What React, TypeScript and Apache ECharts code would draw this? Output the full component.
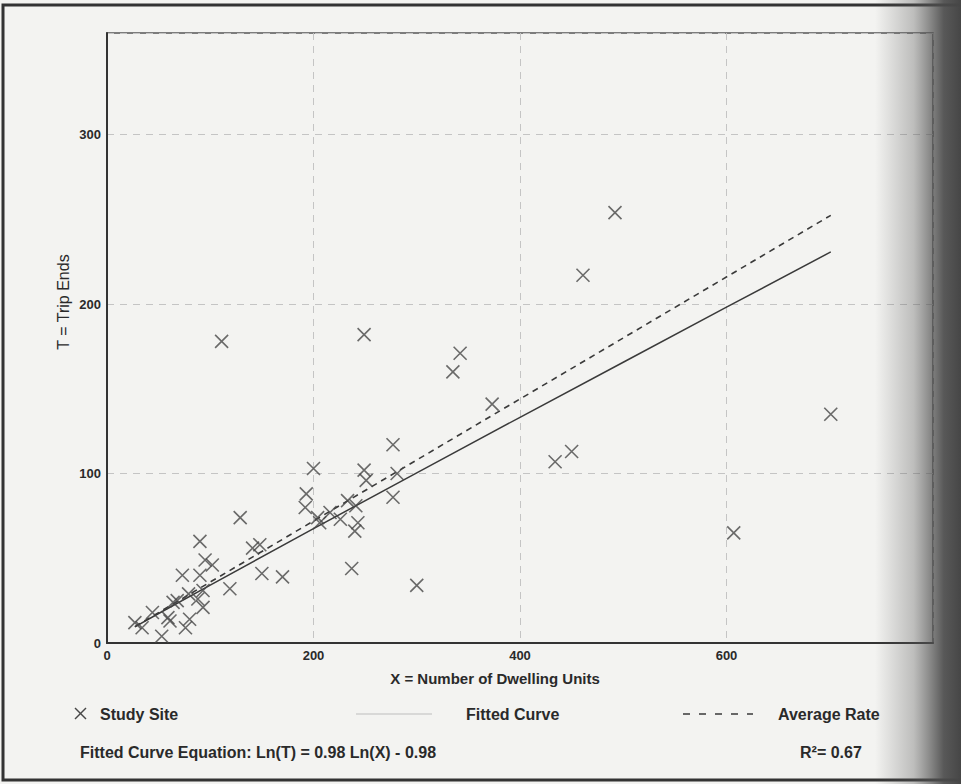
import React, { useEffect, useRef } from "react";
import * as echarts from "echarts";

// Study sites: X = number of dwelling units, T = trip ends
const siteX = [27, 34, 44, 53, 59, 61, 64, 68, 73, 76, 80, 79, 88, 90, 90, 93, 93, 95, 102, 111, 119, 129, 141, 148, 150, 170, 193, 192, 200, 204, 206, 216, 226, 233, 241, 243, 240, 237, 249, 249, 251, 277, 277, 281, 300, 335, 342, 373, 434, 450, 461, 492, 607, 701];
const siteT = [12, 9, 18, 4, 15, 13, 24, 25, 40, 9, 14, 29, 26, 40, 60, 31, 21, 49, 46, 178, 32, 74, 56, 58, 41, 39, 88, 80, 103, 74, 71, 77, 73, 84, 81, 71, 66, 44, 182, 102, 96, 117, 86, 100, 34, 160, 171, 141, 107, 113, 217, 254, 65, 135];

// Fitted curve Ln(T) = 0.98 Ln(X) - 0.98
const fitX = [27, 50, 100, 200, 300, 400, 500, 600, 701];
const fitT = [9.5, 17.4, 34.2, 67.5, 100.4, 133.2, 165.7, 198.2, 230.8];

// Average rate line
const avgX = [27, 701];
const avgT = [9.7, 252.4];

const xTicks = [0, 200, 400, 600];
const yTicks = [0, 100, 200, 300];

const FONT = "'Liberation Sans', Arial, sans-serif";
const TXT = "#2a2a2a";

export default function App() {
  const ref = useRef<HTMLDivElement>(null);
  useEffect(() => {
    if (!ref.current) return;
    const chart = echarts.init(ref.current, undefined, { renderer: "svg" });
    const pair = (xs: number[], ys: number[]) => xs.map((x, i) => [x, ys[i]]);
    chart.setOption({
      animation: false,
      backgroundColor: "transparent",
      grid: {
        left: 107,
        top: 33,
        right: 28,
        bottom: 141,
        show: true,
        borderColor: "#555",
        borderWidth: 1.5,
      },
      xAxis: {
        type: "value",
        min: 0,
        max: 800,
        interval: 200,
        axisLine: { show: true, onZero: false, lineStyle: { color: "#333", width: 2 } },
        axisTick: { show: false },
        splitLine: { show: true, lineStyle: { color: "#c4c4c4", width: 1, type: [7, 6] } },
        axisLabel: {
          color: TXT,
          fontFamily: FONT,
          fontWeight: "bold",
          fontSize: 13,
          margin: 6,
          formatter: (v: number) => (xTicks.includes(v) ? String(v) : ""),
        },
      },
      yAxis: {
        type: "value",
        min: 0,
        max: 360,
        interval: 100,
        axisLine: { show: true, onZero: false, lineStyle: { color: "#333", width: 2 } },
        axisTick: { show: false },
        splitLine: { show: true, lineStyle: { color: "#c4c4c4", width: 1, type: [7, 6] } },
        axisLabel: {
          color: TXT,
          fontFamily: FONT,
          fontWeight: "bold",
          fontSize: 13,
          margin: 6,
          formatter: (v: number) => (yTicks.includes(v) ? String(v) : ""),
        },
      },
      series: [
        {
          name: "Fitted Curve",
          type: "line",
          data: pair(fitX, fitT),
          showSymbol: false,
          smooth: false,
          lineStyle: { color: "#3a3a3a", width: 1.5 },
          z: 2,
        },
        {
          name: "Average Rate",
          type: "line",
          data: pair(avgX, avgT),
          showSymbol: false,
          lineStyle: { color: "#3a3a3a", width: 1.6, type: [6, 5] },
          z: 2,
        },
        {
          name: "Study Site",
          type: "scatter",
          data: pair(siteX, siteT),
          symbol: "path://M0,0L10,10M10,0L0,10",
          symbolSize: 13,
          itemStyle: { color: "rgba(0,0,0,0)", borderColor: "#474747", borderWidth: 1.6 },
          z: 3,
        },
      ],
      graphic: [
        {
          type: "rect",
          shape: { x: 3, y: 5, width: 1000, height: 775 },
          style: { fill: "none", stroke: "#333", lineWidth: 3 },
          silent: true,
        },
        {
          type: "text",
          x: 495,
          y: 678,
          style: {
            text: "X = Number of Dwelling Units",
            font: `bold 15px ${FONT}`,
            fill: TXT,
            textAlign: "center",
            textVerticalAlign: "middle",
          },
        },
        {
          type: "text",
          x: 63,
          y: 302,
          rotation: Math.PI / 2,
          style: {
            text: "T = Trip Ends",
            font: `16px ${FONT}`,
            fill: TXT,
            textAlign: "center",
            textVerticalAlign: "middle",
          },
        },
        // legend row
        {
          type: "line",
          shape: { x1: 75, y1: 708, x2: 86, y2: 719 },
          style: { stroke: "#474747", lineWidth: 1.4 },
        },
        {
          type: "line",
          shape: { x1: 86, y1: 708, x2: 75, y2: 719 },
          style: { stroke: "#474747", lineWidth: 1.4 },
        },
        {
          type: "text",
          x: 100,
          y: 714,
          style: { text: "Study Site", font: `bold 16px ${FONT}`, fill: TXT, textVerticalAlign: "middle" },
        },
        {
          type: "line",
          shape: { x1: 356, y1: 714, x2: 432, y2: 714 },
          style: { stroke: "#bdbdbd", lineWidth: 1.2 },
        },
        {
          type: "text",
          x: 466,
          y: 714,
          style: { text: "Fitted Curve", font: `bold 16px ${FONT}`, fill: TXT, textVerticalAlign: "middle" },
        },
        {
          type: "line",
          shape: { x1: 683, y1: 714, x2: 753, y2: 714 },
          style: { stroke: "#3a3a3a", lineWidth: 1.4, lineDash: [7, 9] },
        },
        {
          type: "text",
          x: 778,
          y: 714,
          style: { text: "Average Rate", font: `bold 16px ${FONT}`, fill: TXT, textVerticalAlign: "middle" },
        },
        {
          type: "text",
          x: 80,
          y: 752,
          style: {
            text: "Fitted Curve Equation: Ln(T) = 0.98 Ln(X) - 0.98",
            font: `bold 16px ${FONT}`,
            fill: TXT,
            textVerticalAlign: "middle",
          },
        },
        {
          type: "text",
          x: 800,
          y: 752,
          style: { text: "R²= 0.67", font: `bold 16px ${FONT}`, fill: TXT, textVerticalAlign: "middle" },
        },
        {
          type: "rect",
          shape: { x: 875, y: 0, width: 86, height: 784 },
          silent: true,
          z: 100,
          style: {
            fill: new echarts.graphic.LinearGradient(0, 0, 1, 0, [
              { offset: 0, color: "rgba(90,90,90,0)" },
              { offset: 0.45, color: "rgba(90,90,90,0.35)" },
              { offset: 0.8, color: "rgba(75,75,75,0.92)" },
              { offset: 1, color: "rgba(70,70,70,1)" },
            ]),
          },
        },
      ],
    });
    return () => chart.dispose();
  }, []);
  return (
    <div
      ref={ref}
      style={{ position: "absolute", left: 0, top: 0, width: 961, height: 784, background: "#f3f3f1" }}
    />
  );
}
